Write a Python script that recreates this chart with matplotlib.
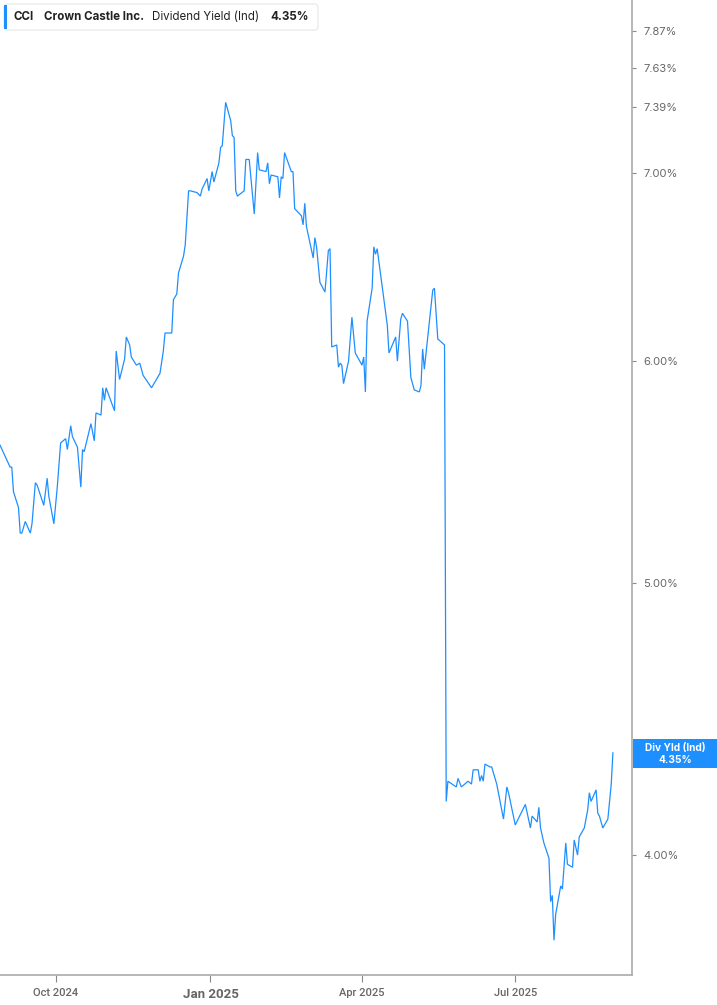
import matplotlib
matplotlib.use("Agg")
import matplotlib.pyplot as plt
from matplotlib.patches import FancyBboxPatch, Rectangle
from matplotlib.ticker import NullLocator, FixedLocator, FixedFormatter
import pandas as pd

dates = [
    "2024-08-29", "2024-09-04", "2024-09-05", "2024-09-06", "2024-09-09", "2024-09-10",
    "2024-09-11", "2024-09-13", "2024-09-16", "2024-09-17", "2024-09-19", "2024-09-20",
    "2024-09-24", "2024-09-26", "2024-09-27", "2024-09-30", "2024-10-02", "2024-10-04",
    "2024-10-07", "2024-10-08", "2024-10-10", "2024-10-11", "2024-10-14", "2024-10-16",
    "2024-10-17", "2024-10-18", "2024-10-22", "2024-10-24", "2024-10-25", "2024-10-28",
    "2024-10-29", "2024-10-30", "2024-10-31", "2024-11-05", "2024-11-06", "2024-11-08",
    "2024-11-11", "2024-11-12", "2024-11-14", "2024-11-15", "2024-11-18", "2024-11-20",
    "2024-11-22", "2024-11-27", "2024-12-02", "2024-12-04", "2024-12-05", "2024-12-09",
    "2024-12-10", "2024-12-12", "2024-12-13", "2024-12-16", "2024-12-17", "2024-12-19",
    "2024-12-20", "2024-12-24", "2024-12-26", "2024-12-27", "2024-12-30", "2024-12-31",
    "2025-01-02", "2025-01-03", "2025-01-06", "2025-01-07", "2025-01-08", "2025-01-10",
    "2025-01-13", "2025-01-14", "2025-01-15", "2025-01-16", "2025-01-17", "2025-01-21",
    "2025-01-22", "2025-01-24", "2025-01-27", "2025-01-29", "2025-01-30", "2025-02-03",
    "2025-02-04", "2025-02-05", "2025-02-06", "2025-02-10", "2025-02-11", "2025-02-12",
    "2025-02-13", "2025-02-14", "2025-02-18", "2025-02-19", "2025-02-20", "2025-02-24",
    "2025-02-25", "2025-02-26", "2025-02-27", "2025-03-03", "2025-03-04", "2025-03-05",
    "2025-03-07", "2025-03-10", "2025-03-12", "2025-03-13", "2025-03-14", "2025-03-17",
    "2025-03-18", "2025-03-19", "2025-03-20", "2025-03-21", "2025-03-24", "2025-03-26",
    "2025-03-28", "2025-04-01", "2025-04-02", "2025-04-03", "2025-04-04", "2025-04-07",
    "2025-04-08", "2025-04-09", "2025-04-10", "2025-04-16", "2025-04-17", "2025-04-21",
    "2025-04-22", "2025-04-24", "2025-04-25", "2025-04-28", "2025-04-30", "2025-05-02",
    "2025-05-05", "2025-05-06", "2025-05-07", "2025-05-08", "2025-05-13", "2025-05-14",
    "2025-05-16", "2025-05-20", "2025-05-21", "2025-05-22", "2025-05-27", "2025-05-28",
    "2025-05-30", "2025-06-03", "2025-06-05", "2025-06-06", "2025-06-09", "2025-06-10",
    "2025-06-11", "2025-06-12", "2025-06-13", "2025-06-16", "2025-06-17", "2025-06-20",
    "2025-06-24", "2025-06-26", "2025-06-27", "2025-07-01", "2025-07-07", "2025-07-10",
    "2025-07-11", "2025-07-14", "2025-07-15", "2025-07-16", "2025-07-18", "2025-07-21",
    "2025-07-22", "2025-07-23", "2025-07-24", "2025-07-25", "2025-07-28", "2025-07-29",
    "2025-07-31", "2025-08-01", "2025-08-04", "2025-08-05", "2025-08-07", "2025-08-08",
    "2025-08-11", "2025-08-13", "2025-08-14", "2025-08-15", "2025-08-18", "2025-08-19",
    "2025-08-20", "2025-08-22", "2025-08-25", "2025-08-27", "2025-08-28",
]

div_yield = [
    5.60, 5.50, 5.50, 5.39, 5.32, 5.21,
    5.21, 5.26, 5.21, 5.25, 5.43, 5.42,
    5.33, 5.45, 5.37, 5.25, 5.41, 5.61,
    5.63, 5.58, 5.69, 5.64, 5.59, 5.41,
    5.58, 5.57, 5.70, 5.62, 5.75, 5.74,
    5.87, 5.81, 5.87, 5.76, 6.05, 5.91,
    6.01, 6.12, 6.08, 6.02, 5.98, 5.99,
    5.93, 5.87, 5.94, 6.05, 6.14, 6.14,
    6.31, 6.34, 6.45, 6.54, 6.60, 6.90,
    6.90, 6.89, 6.87, 6.91, 6.97, 6.90,
    7.01, 6.95, 7.06, 7.15, 7.16, 7.42,
    7.31, 7.22, 7.21, 6.90, 6.87, 6.90,
    7.08, 7.08, 6.77, 7.12, 7.02, 7.01,
    7.06, 6.94, 6.99, 6.98, 6.86, 6.98,
    6.97, 7.12, 7.01, 7.01, 6.80, 6.76,
    6.71, 6.83, 6.70, 6.53, 6.64, 6.59,
    6.40, 6.35, 6.57, 6.58, 6.07, 6.08,
    5.97, 5.99, 5.98, 5.89, 6.00, 6.22,
    6.04, 5.98, 6.02, 5.85, 6.20, 6.37,
    6.59, 6.55, 6.58, 6.18, 6.04, 6.12,
    6.00, 6.21, 6.24, 6.20, 5.92, 5.86,
    5.85, 5.88, 6.06, 5.96, 6.36, 6.37,
    6.11, 6.08, 4.18, 4.25, 4.23, 4.26,
    4.23, 4.25, 4.24, 4.29, 4.29, 4.25,
    4.27, 4.25, 4.31, 4.30, 4.30, 4.24,
    4.12, 4.23, 4.21, 4.10, 4.17, 4.09,
    4.13, 4.11, 4.16, 4.09, 4.04, 3.99,
    3.85, 3.87, 3.73, 3.81, 3.90, 3.89,
    4.04, 3.97, 3.96, 4.05, 4.00, 4.06,
    4.09, 4.15, 4.21, 4.18, 4.22, 4.14,
    4.13, 4.09, 4.12, 4.24, 4.35,
]

ytick_vals = [4.00, 5.00, 6.00, 7.00, 7.39, 7.63, 7.87]
xtick_dates = ["2024-10-01", "2025-01-01", "2025-04-01", "2025-07-01"]
xtick_labels = ["Oct 2024", "Jan 2025", "Apr 2025", "Jul 2025"]

ticker = "CCI"
company = "Crown Castle Inc."
metric = "Dividend Yield (Ind)"
last_value = div_yield[-1]

LINE = "#1e8fff"
GRAY_TXT = "#666666"
SPINE = "#aaaaaa"

W, H = 717, 1005
fig = plt.figure(figsize=(W / 100, H / 100), dpi=100)
fig.patch.set_facecolor("white")

def fx(x):
    return x / W

def fy(y):
    return 1 - y / H

ax = fig.add_axes([0, fy(975), fx(632), 975 / H])
ax.plot(pd.to_datetime(dates), div_yield, color=LINE, lw=0.9, solid_joinstyle="miter")
ax.set_yscale("log")
ax.set_ylim(3.625, 8.07)
ax.set_xlim(pd.Timestamp("2024-08-29"), pd.Timestamp("2025-09-08 08:00"))

ax.yaxis.tick_right()
ax.yaxis.set_major_locator(FixedLocator(ytick_vals))
ax.yaxis.set_major_formatter(FixedFormatter([f"{v:.2f}%" for v in ytick_vals]))
ax.yaxis.set_minor_locator(NullLocator())
ax.set_xticks(pd.to_datetime(xtick_dates))
ax.set_xticklabels(xtick_labels)
ax.xaxis.set_minor_locator(NullLocator())

for side in ["left", "top"]:
    ax.spines[side].set_visible(False)
for side in ["right", "bottom"]:
    ax.spines[side].set_color(SPINE)
    ax.spines[side].set_linewidth(1.2)

ax.tick_params(axis="y", which="major", direction="out", length=3, width=0.8,
               color="#888888", labelcolor=GRAY_TXT, labelsize=8, pad=5)
ax.tick_params(axis="x", which="major", direction="out", length=5, width=0.8,
               color="#888888", labelcolor=GRAY_TXT, labelsize=8, pad=4)
for lbl in ax.get_yticklabels():
    lbl.set_fontfamily("Inter")
for lbl in ax.get_xticklabels():
    lbl.set_fontfamily("Roboto")
    lbl.set_fontweight("medium")
    if lbl.get_text().startswith("Jan"):
        lbl.set_fontweight("bold")
        lbl.set_fontsize(9.5)

# legend box (top-left)
box = FancyBboxPatch((fx(4), fy(30)), fx(318) - fx(4), fy(4) - fy(30),
                     boxstyle="round,pad=0,rounding_size=0.004",
                     transform=fig.transFigure, facecolor="white",
                     edgecolor="#e6e6e6", lw=0.8, zorder=5)
fig.patches.append(box)
fig.patches.append(Rectangle((fx(4), fy(29)), fx(3), fy(5) - fy(29),
                             transform=fig.transFigure, facecolor=LINE,
                             edgecolor="none", zorder=6))
ty = fy(16.5)
LFS = 8.3
fig.text(fx(14), ty, ticker, fontsize=LFS, fontweight="bold", family="Inter",
         color="#222222", va="center", zorder=7)
fig.text(fx(44), ty, company, fontsize=LFS, fontweight="bold", family="Inter",
         color="#222222", va="center", zorder=7)
fig.text(fx(152), ty, metric, fontsize=LFS, family="Inter",
         color="#222222", va="center", zorder=7)
fig.text(fx(270), ty, f"{last_value:.2f}%", fontsize=LFS, fontweight="bold",
         family="Inter", color="#222222", va="center", zorder=7)

# right-side value label
fig.patches.append(Rectangle((fx(633), fy(768)), fx(717) - fx(633), fy(739) - fy(768),
                             transform=fig.transFigure, facecolor=LINE,
                             edgecolor="none", zorder=6))
fig.text(fx(675), fy(747.5), "Div Yld (Ind)", fontsize=7.3, fontweight="bold",
         family="Inter", color="white", ha="center", va="center", zorder=7)
fig.text(fx(675), fy(760), f"{last_value:.2f}%", fontsize=7.3, fontweight="bold",
         family="Inter", color="white", ha="center", va="center", zorder=7)

fig.savefig("out.png", dpi=100, facecolor="white")
